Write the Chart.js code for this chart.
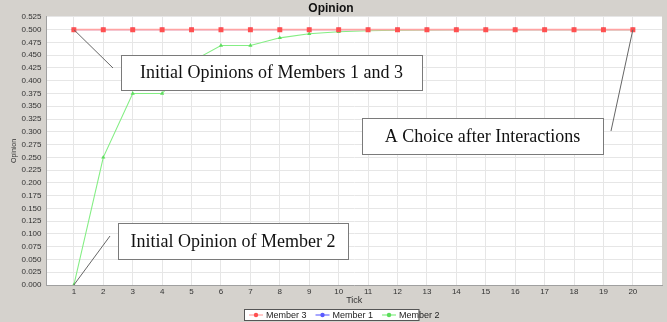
<!DOCTYPE html>
<html>
<head>
<meta charset="utf-8">
<script src="https://cdn.jsdelivr.net/npm/chart.js@4.4.0/dist/chart.umd.min.js"></script>
<style>
  html, body { margin: 0; padding: 0; background: #d5d2cd; }
  #wrap { width: 667px; height: 322px; position: relative; }
</style>
</head>
<body>
<div id="wrap"><canvas id="c" width="667" height="322"></canvas></div>
<script>
// ---- data ----
const ticks = [1, 2, 3, 4, 5, 6, 7, 8, 9, 10, 11, 12, 13, 14, 15, 16, 17, 18, 19, 20];
const member3 = [0.5, 0.5, 0.5, 0.5, 0.5, 0.5, 0.5, 0.5, 0.5, 0.5, 0.5, 0.5, 0.5, 0.5, 0.5, 0.5, 0.5, 0.5, 0.5, 0.5];
const member1 = [0.5, 0.5, 0.5, 0.5, 0.5, 0.5, 0.5, 0.5, 0.5, 0.5, 0.5, 0.5, 0.5, 0.5, 0.5, 0.5, 0.5, 0.5, 0.5, 0.5];
const member2 = [0, 0.25, 0.375, 0.375, 0.4375, 0.469, 0.469, 0.484, 0.492, 0.496, 0.498, 0.499, 0.4995, 0.4998, 0.5, 0.5, 0.5, 0.5, 0.5, 0.5];
const yTicks = [0, 0.025, 0.05, 0.075, 0.1, 0.125, 0.15, 0.175, 0.2, 0.225, 0.25, 0.275, 0.3, 0.325, 0.35, 0.375, 0.4, 0.425, 0.45, 0.475, 0.5, 0.525];
const seriesNames = ['Member 3', 'Member 1', 'Member 2'];
const titleText = 'Opinion';
const xTitle = 'Tick';
const yTitle = 'Opinion';
const notes = [
  { text: 'Initial Opinions of Members 1 and 3', anchorTick: 1, anchorValue: 0.5 },
  { text: 'Initial Opinion of Member 2', anchorTick: 1, anchorValue: 0 },
  { text: 'A Choice after Interactions', anchorTick: 20, anchorValue: 0.5 }
];

// ---- styles / positions ----
const noteBoxes = [
  { x0: 121, y0: 55, x1: 422, y1: 90, lx: 113, ly: 68 },
  { x0: 118, y0: 223, x1: 348, y1: 259, lx: 110, ly: 236 },
  { x0: 362, y0: 118, x1: 603, y1: 154, lx: 611, ly: 131 }
];
const styles = [
  { line: '#ffa3a3', point: '#ff5050', shape: 'rect', r: 3.5, w: 1.6 },
  { line: '#6b6bff', point: '#5a5aff', shape: 'circle', r: 2.2, w: 1 },
  { line: '#84ee84', point: '#5cdc5c', shape: 'triangle', r: 2.4, w: 1.1 }
];
const seriesData = [member3, member1, member2];
const drawOrder = [0, 2, 1];

const datasets = seriesNames.map((name, i) => ({
  label: name,
  data: ticks.map((t, j) => ({ x: t, y: seriesData[i][j] })),
  borderColor: styles[i].line,
  backgroundColor: styles[i].point,
  pointBorderColor: styles[i].point,
  pointBackgroundColor: styles[i].point,
  pointStyle: styles[i].shape,
  pointRadius: styles[i].r,
  pointBorderWidth: 0,
  borderWidth: styles[i].w,
  tension: 0,
  order: drawOrder[i]
}));

const decor = {
  id: 'decor',
  beforeDraw(chart) {
    const { ctx, chartArea: a } = chart;
    ctx.save();
    ctx.fillStyle = '#ffffff';
    ctx.fillRect(a.left, a.top, a.right - a.left, a.bottom - a.top);
    ctx.restore();
  },
  afterDraw(chart) {
    const { ctx, scales } = chart;
    ctx.save();
    // annotations
    notes.forEach((n, i) => {
      const b = noteBoxes[i];
      const px = scales.x.getPixelForValue(n.anchorTick);
      const py = scales.y.getPixelForValue(n.anchorValue);
      ctx.strokeStyle = '#666666';
      ctx.lineWidth = 1;
      ctx.beginPath();
      ctx.moveTo(px, py);
      ctx.lineTo(b.lx, b.ly);
      ctx.stroke();
      ctx.fillStyle = '#ffffff';
      ctx.fillRect(b.x0, b.y0, b.x1 - b.x0, b.y1 - b.y0);
      ctx.strokeStyle = '#7a7a7a';
      ctx.strokeRect(b.x0 + 0.5, b.y0 + 0.5, b.x1 - b.x0, b.y1 - b.y0);
      ctx.fillStyle = '#111111';
      ctx.font = '18px "Liberation Serif", "Times New Roman", serif';
      ctx.textAlign = 'center';
      ctx.textBaseline = 'middle';
      ctx.fillText(n.text, (b.x0 + b.x1) / 2, (b.y0 + b.y1) / 2 + 1);
    });
    // legend
    const lb = { x0: 244, y0: 309.5, x1: 418.5, y1: 320.5 };
    ctx.fillStyle = '#ffffff';
    ctx.fillRect(lb.x0, lb.y0, lb.x1 - lb.x0, lb.y1 - lb.y0);
    ctx.strokeStyle = '#555555';
    ctx.lineWidth = 1;
    ctx.strokeRect(lb.x0 + 0.5, lb.y0, lb.x1 - lb.x0, lb.y1 - lb.y0);
    ctx.font = '9px "Liberation Sans", Arial, sans-serif';
    ctx.textAlign = 'left';
    ctx.textBaseline = 'middle';
    const cy = (lb.y0 + lb.y1) / 2;
    let x = lb.x0 + 5;
    seriesNames.forEach((name, i) => {
      const s = styles[i];
      ctx.strokeStyle = s.line;
      ctx.lineWidth = 1.2;
      ctx.beginPath();
      ctx.moveTo(x, cy);
      ctx.lineTo(x + 14, cy);
      ctx.stroke();
      ctx.fillStyle = s.point;
      ctx.beginPath();
      ctx.arc(x + 7, cy, 2.2, 0, Math.PI * 2);
      ctx.fill();
      ctx.fillStyle = '#222222';
      ctx.fillText(name, x + 17, cy + 0.5);
      x += 17 + ctx.measureText(name).width + 9;
    });
    ctx.restore();
  }
};

new Chart(document.getElementById('c'), {
  type: 'line',
  data: { datasets },
  plugins: [decor],
  options: {
    responsive: false,
    animation: false,
    events: [],
    layout: { padding: { left: 0, right: 5, top: 0, bottom: 16.5 } },
    plugins: {
      legend: { display: false },
      tooltip: { enabled: false },
      title: {
        display: true,
        text: titleText,
        color: '#111111',
        font: { family: '"Liberation Sans", Arial, sans-serif', size: 12, weight: 'bold' },
        padding: { top: 1, bottom: 1.5 }
      }
    },
    scales: {
      x: {
        type: 'linear',
        min: 0.07,
        max: 20.99,
        afterFit: (s) => { s.height = 20.5; },
        afterBuildTicks: (s) => { s.ticks = ticks.map(v => ({ value: v })); },
        ticks: {
          autoSkip: false,
          maxRotation: 0,
          padding: 2,
          color: '#333333',
          font: { family: '"Liberation Sans", Arial, sans-serif', size: 8 },
          callback: (v) => String(v)
        },
        grid: { color: '#e6e6e6', lineWidth: 1, drawTicks: false },
        border: { color: '#a0a0a0' },
        title: {
          display: true,
          text: xTitle,
          color: '#333333',
          padding: { top: 0, bottom: 0 },
          font: { family: '"Liberation Sans", Arial, sans-serif', size: 9 }
        }
      },
      y: {
        type: 'linear',
        min: 0,
        max: 0.525,
        afterFit: (s) => { s.width = 46.5; },
        afterBuildTicks: (s) => { s.ticks = yTicks.map(v => ({ value: v })); },
        ticks: {
          autoSkip: false,
          padding: 5,
          color: '#333333',
          font: { family: '"Liberation Sans", Arial, sans-serif', size: 8 },
          callback: (v) => Number(v).toFixed(3)
        },
        grid: { color: '#e6e6e6', lineWidth: 1, drawTicks: false },
        border: { color: '#a0a0a0' },
        title: {
          display: true,
          text: yTitle,
          color: '#333333',
          padding: { top: 9.5, bottom: 0 },
          font: { family: '"Liberation Sans", Arial, sans-serif', size: 7 }
        }
      }
    }
  }
});
</script>
</body>
</html>
